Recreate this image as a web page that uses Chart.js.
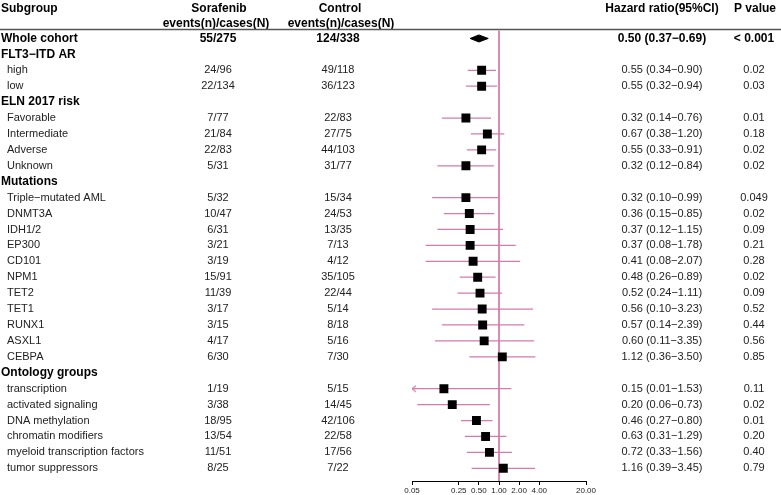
<!DOCTYPE html>
<html>
<head>
<meta charset="utf-8">
<script src="https://cdn.jsdelivr.net/npm/chart.js@4"></script>
<style>
  html, body { margin: 0; padding: 0; background: #fff; }
  canvas { display: block; }
</style>
</head>
<body>
<canvas id="forest" width="781" height="495"></canvas>
<script>
// --- 1. Data ---
const subgroups = [
  "Whole cohort", "FLT3\u2212ITD AR", "high", "low",
  "ELN 2017 risk", "Favorable", "Intermediate", "Adverse", "Unknown",
  "Mutations", "Triple\u2212mutated AML", "DNMT3A", "IDH1/2", "EP300", "CD101",
  "NPM1", "TET2", "TET1", "RUNX1", "ASXL1", "CEBPA",
  "Ontology groups", "transcription", "activated signaling", "DNA methylation",
  "chromatin modifiers", "myeloid transcription factors", "tumor suppressors"
];
// row kind: "total" (bold, diamond), "group" (bold heading), "item"
const rowKind = [
  "total", "group", "item", "item",
  "group", "item", "item", "item", "item",
  "group", "item", "item", "item", "item", "item",
  "item", "item", "item", "item", "item", "item",
  "group", "item", "item", "item", "item", "item", "item"
];
const sorafenib = [
  "55/275", "", "24/96", "22/134",
  "", "7/77", "21/84", "22/83", "5/31",
  "", "5/32", "10/47", "6/31", "3/21", "3/19",
  "15/91", "11/39", "3/17", "3/15", "4/17", "6/30",
  "", "1/19", "3/38", "18/95", "13/54", "11/51", "8/25"
];
const control = [
  "124/338", "", "49/118", "36/123",
  "", "22/83", "27/75", "44/103", "31/77",
  "", "15/34", "24/53", "13/35", "7/13", "4/12",
  "35/105", "22/44", "5/14", "8/18", "5/16", "7/30",
  "", "5/15", "14/45", "42/106", "22/58", "17/56", "7/22"
];
const hr = [
  0.50, null, 0.55, 0.55,
  null, 0.32, 0.67, 0.55, 0.32,
  null, 0.32, 0.36, 0.37, 0.37, 0.41,
  0.48, 0.52, 0.56, 0.57, 0.60, 1.12,
  null, 0.15, 0.20, 0.46, 0.63, 0.72, 1.16
];
const ciLow = [
  0.37, null, 0.34, 0.32,
  null, 0.14, 0.38, 0.33, 0.12,
  null, 0.10, 0.15, 0.12, 0.08, 0.08,
  0.26, 0.24, 0.10, 0.14, 0.11, 0.36,
  null, 0.01, 0.06, 0.27, 0.31, 0.33, 0.39
];
const ciHigh = [
  0.69, null, 0.90, 0.94,
  null, 0.76, 1.20, 0.91, 0.84,
  null, 0.99, 0.85, 1.15, 1.78, 2.07,
  0.89, 1.11, 3.23, 2.39, 3.35, 3.50,
  null, 1.53, 0.73, 0.80, 1.29, 1.56, 3.45
];
const pValues = [
  "< 0.001", "", "0.02", "0.03",
  "", "0.01", "0.18", "0.02", "0.02",
  "", "0.049", "0.02", "0.09", "0.21", "0.28",
  "0.02", "0.09", "0.52", "0.44", "0.56", "0.85",
  "", "0.11", "0.02", "0.01", "0.20", "0.40", "0.79"
];
const xTicks = [0.05, 0.25, 0.50, 1.00, 2.00, 4.00, 20.00];
const xMin = 0.05, xMax = 20;

// --- 2. Styles ---
const pink = "#d67aab";
const FONT = "'Liberation Sans', Arial, sans-serif";
const DIAMOND_HALF = 0.22; // half height of summary diamond, in row units

const hrLabel = i => hr[i] == null ? "" :
  hr[i].toFixed(2) + " (" + ciLow[i].toFixed(2) + "\u2212" + ciHigh[i].toFixed(2) + ")";

// --- 3. Datasets ---
const datasets = [];

// reference line at HR = 1
datasets.push({
  type: "line",
  data: [{ x: 1, y: -0.5 }, { x: 1, y: 27.8 }],
  borderColor: pink, borderWidth: 1, pointRadius: 0, order: 5
});

// confidence intervals
hr.forEach((v, i) => {
  if (v == null || rowKind[i] === "total") return;
  datasets.push({
    type: "line",
    data: [{ x: Math.max(ciLow[i], xMin), y: i }, { x: Math.min(ciHigh[i], xMax), y: i }],
    borderColor: pink, borderWidth: 1.25, pointRadius: 0, order: 4
  });
});

// open arrow head for intervals running off the left edge (tip at image centre)
const arrowImg = document.createElement("canvas");
arrowImg.width = 12; arrowImg.height = 8;
(function () {
  const c = arrowImg.getContext("2d");
  c.strokeStyle = pink; c.lineWidth = 1.2;
  c.beginPath();
  c.moveTo(10, 1); c.lineTo(6, 4); c.lineTo(10, 7);
  c.stroke();
})();
const arrowPts = [];
hr.forEach((v, i) => {
  if (v != null && ciLow[i] < xMin) arrowPts.push({ x: xMin, y: i });
});
datasets.push({
  type: "scatter",
  data: arrowPts,
  pointStyle: arrowImg, order: 3
});

// point estimates (squares)
datasets.push({
  type: "scatter",
  data: hr.map((v, i) => ({ x: v, y: i })).filter((p, i) => p.x != null && rowKind[i] !== "total"),
  pointStyle: "rect", pointRadius: 6.3,
  backgroundColor: "#000", borderColor: "#000", borderWidth: 0, order: 1
});

// summary diamond
const t = rowKind.indexOf("total");
datasets.push({
  type: "line",
  data: [
    { x: ciLow[t], y: t }, { x: hr[t], y: t - DIAMOND_HALF },
    { x: ciHigh[t], y: t }, { x: hr[t], y: t + DIAMOND_HALF },
    { x: ciLow[t], y: t }
  ],
  borderColor: "#000", borderWidth: 1, backgroundColor: "#000",
  fill: "shape", pointRadius: 0, tension: 0, order: 1
});

// --- 4. Table text plugin ---
const tablePlugin = {
  id: "forestTable",
  afterDraw(chart) {
    const ctx = chart.ctx;
    const y = chart.scales.y;
    ctx.save();
    ctx.textBaseline = "middle";
    ctx.fillStyle = "#000";

    // column headers
    ctx.font = "bold 12px " + FONT;
    ctx.textAlign = "left";
    ctx.fillText("Subgroup", 1, 9);
    ctx.textAlign = "center";
    ctx.fillText("Sorafenib", 219, 9);
    ctx.fillText("events(n)/cases(N)", 216, 24);
    ctx.fillText("Control", 340, 9);
    ctx.fillText("events(n)/cases(N)", 341, 24);
    ctx.fillText("Hazard ratio(95%CI)", 662, 9);
    ctx.fillText("P value", 755, 9);

    // rule under the header
    ctx.strokeStyle = "#555";
    ctx.lineWidth = 1.5;
    ctx.beginPath();
    ctx.moveTo(0, 29.5); ctx.lineTo(781, 29.5);
    ctx.stroke();

    subgroups.forEach((name, i) => {
      const py = y.getPixelForValue(i);
      const kind = rowKind[i];
      const bold = kind !== "item";
      ctx.font = (bold ? "bold 12px " : "11px ") + FONT;
      ctx.fillStyle = bold ? "#000" : "#222";
      ctx.textAlign = "left";
      ctx.fillText(name, kind === "item" ? 7 : 1, py);
      if (kind === "group") return;
      ctx.textAlign = "center";
      ctx.fillText(sorafenib[i], 218, py);
      ctx.fillText(control[i], 338, py);
      ctx.fillText(hrLabel(i), 662, py);
      ctx.fillText(pValues[i], 754, py);
    });
    ctx.restore();
  }
};

// --- 5. Chart ---
new Chart(document.getElementById("forest"), {
  type: "scatter",
  data: { datasets },
  options: {
    responsive: false,
    animation: false,
    devicePixelRatio: 1,
    layout: { padding: { left: 412, right: 195, top: 30.5, bottom: 0 } },
    plugins: {
      legend: { display: false },
      tooltip: { enabled: false },
      title: { display: false }
    },
    scales: {
      x: {
        type: "logarithmic",
        min: xMin, max: xMax,
        afterBuildTicks: axis => { axis.ticks = xTicks.map(v => ({ value: v })); },
        afterFit: axis => { axis.height = 14; },
        ticks: {
          autoSkip: false, maxRotation: 0, padding: 1,
          color: "#222",
          font: { family: FONT, size: 8 },
          callback: v => Number(v).toFixed(2)
        },
        grid: { drawOnChartArea: false, drawTicks: true, tickLength: 4, color: "#000" },
        border: { display: true, color: "#000", width: 1 }
      },
      y: {
        type: "linear",
        reverse: true,
        min: -0.5, max: 27.8,
        display: false
      }
    }
  },
  plugins: [tablePlugin]
});
</script>
</body>
</html>
